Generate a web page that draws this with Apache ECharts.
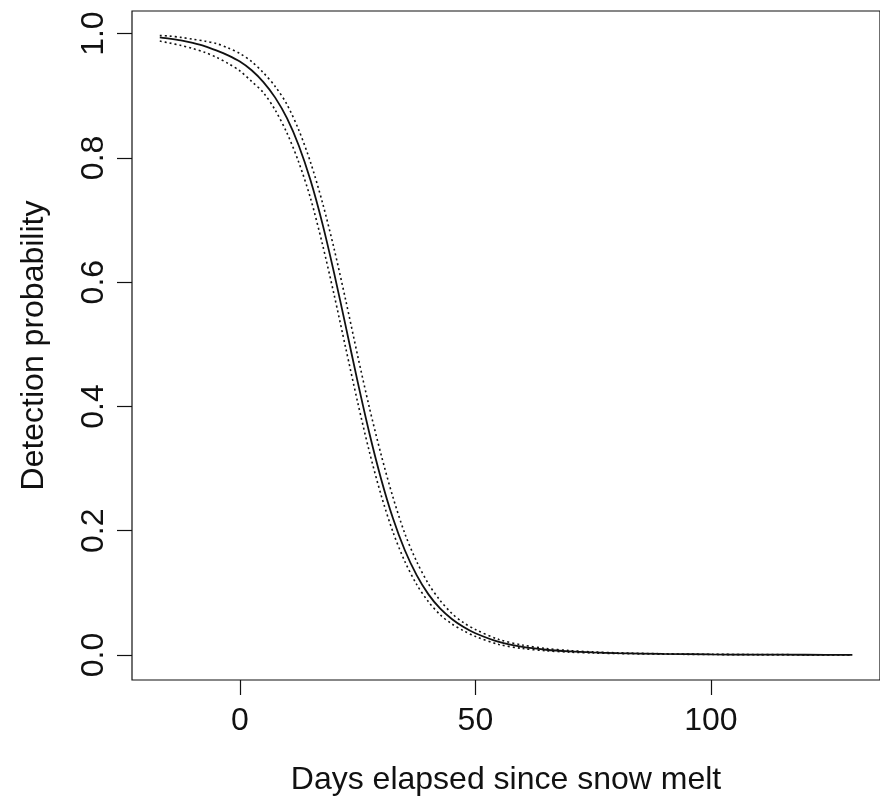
<!DOCTYPE html>
<html>
<head>
<meta charset="utf-8">
<script src="https://cdn.jsdelivr.net/npm/echarts@6/dist/echarts.min.js"></script>
<style>
  html, body { margin: 0; padding: 0; background: #ffffff; }
  #chart { width: 880px; height: 805px; }
</style>
</head>
<body>
<div id="chart"></div>
<script>
// Days since snow melt at which the fitted curve and its bounds are given
const days = [-17, -15, -12.5, -10, -7.5, -5, -2.5, 0, 2.5, 5, 7.5, 10, 12.5, 15, 17.5, 20,
  22.5, 25, 27.5, 30, 32.5, 35, 37.5, 40, 42.5, 45, 47.5, 50, 55, 60, 65, 70, 75, 80,
  90, 100, 110, 120, 130];

// Fitted detection probability
const fitted = [0.994, 0.992, 0.989, 0.985, 0.980, 0.973, 0.965, 0.955, 0.941, 0.922, 0.897,
  0.864, 0.820, 0.764, 0.695, 0.615, 0.528, 0.440, 0.357, 0.283, 0.220, 0.169, 0.129,
  0.098, 0.075, 0.058, 0.045, 0.035, 0.021, 0.013, 0.0085, 0.0058, 0.0041, 0.0030,
  0.0017, 0.0010, 0.0006, 0.0004, 0.0003];

// Upper confidence bound
const upper = [0.997, 0.996, 0.994, 0.991, 0.988, 0.984, 0.977, 0.968, 0.955, 0.937, 0.915,
  0.886, 0.845, 0.793, 0.729, 0.654, 0.570, 0.482, 0.398, 0.322, 0.254, 0.196, 0.151,
  0.115, 0.088, 0.067, 0.052, 0.041, 0.025, 0.016, 0.0105, 0.0072, 0.0050, 0.0036,
  0.0020, 0.0012, 0.0007, 0.0005, 0.0003];

// Lower confidence bound
const lower = [0.988, 0.985, 0.981, 0.976, 0.970, 0.962, 0.952, 0.940, 0.923, 0.905, 0.877,
  0.840, 0.793, 0.735, 0.662, 0.580, 0.493, 0.407, 0.327, 0.257, 0.198, 0.151, 0.114,
  0.086, 0.065, 0.050, 0.039, 0.030, 0.017, 0.0105, 0.0068, 0.0046, 0.0033, 0.0024,
  0.0014, 0.0008, 0.0005, 0.0003, 0.0002];

// Tick positions
const xTicks = [0, 50, 100];
const yTicks = [0, 0.2, 0.4, 0.6, 0.8, 1.0];

const pairs = (ys) => days.map((d, i) => [d, ys[i]]);

const FONT = '"Liberation Sans", Arial, Helvetica, sans-serif';
const INK = '#111111';
const FS = 32;

const chart = echarts.init(document.getElementById('chart'), null, { renderer: 'canvas' });

chart.setOption({
  animation: false,
  backgroundColor: '#ffffff',
  grid: {
    left: 132, top: 11, width: 758, height: 669,
    show: true, borderColor: INK, borderWidth: 1.2, backgroundColor: 'transparent'
  },
  xAxis: {
    type: 'value',
    min: -22.9, max: 135.9,
    name: 'Days elapsed since snow melt',
    nameLocation: 'middle',
    nameGap: 84,
    nameTextStyle: { fontFamily: FONT, fontSize: FS, color: INK },
    axisLine: { show: false, onZero: false },
    splitLine: { show: false },
    axisTick: {
      show: true, inside: false, length: 15,
      customValues: xTicks,
      lineStyle: { color: INK, width: 1.2 }
    },
    axisLabel: {
      customValues: xTicks,
      margin: 25,
      fontFamily: FONT, fontSize: FS, color: INK,
      formatter: (v) => String(v)
    }
  },
  yAxis: {
    type: 'value',
    min: -0.0402, max: 1.0364,
    name: 'Detection probability',
    nameLocation: 'middle',
    nameRotate: 90,
    nameGap: 82,
    nameTextStyle: { fontFamily: FONT, fontSize: FS, color: INK },
    axisLine: { show: false, onZero: false },
    splitLine: { show: false },
    axisTick: {
      show: true, inside: false, length: 15,
      customValues: yTicks,
      lineStyle: { color: INK, width: 1.2 }
    },
    axisLabel: {
      customValues: yTicks,
      rotate: 90,
      margin: 22,
      fontFamily: FONT, fontSize: FS, color: INK,
      formatter: (v) => v.toFixed(1)
    }
  },
  series: [
    {
      name: 'upper',
      type: 'line',
      data: pairs(upper),
      smooth: 0.3,
      symbol: 'none',
      lineStyle: { color: INK, width: 1.6, type: [2, 3] },
      z: 2
    },
    {
      name: 'lower',
      type: 'line',
      data: pairs(lower),
      smooth: 0.3,
      symbol: 'none',
      lineStyle: { color: INK, width: 1.6, type: [2, 3] },
      z: 2
    },
    {
      name: 'fitted',
      type: 'line',
      data: pairs(fitted),
      smooth: 0.3,
      symbol: 'none',
      lineStyle: { color: INK, width: 1.8 },
      z: 3
    }
  ]
});
</script>
</body>
</html>
